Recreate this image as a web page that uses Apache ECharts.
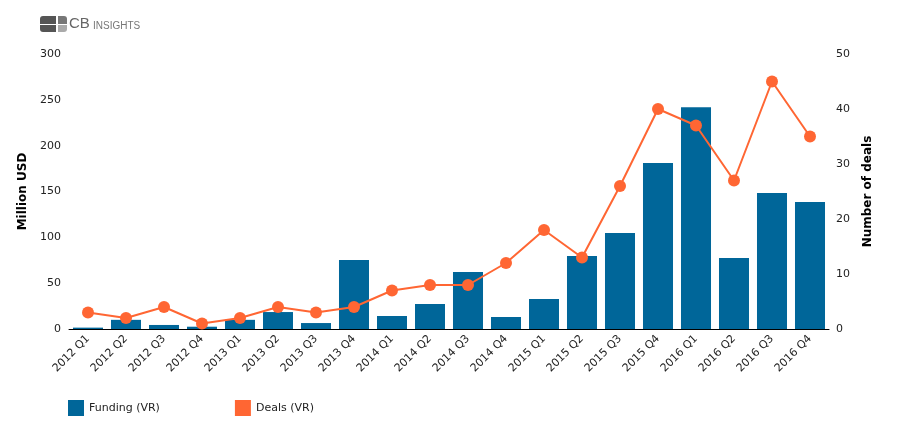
<!DOCTYPE html>
<html><head><meta charset="utf-8">
<script src="https://cdn.jsdelivr.net/npm/echarts@6/dist/echarts.min.js"></script>
<style>html,body{margin:0;padding:0;background:#fff}#c{width:899px;height:436px}</style>
</head><body><div id="c"></div>
<script>
const categories = ['2012 Q1','2012 Q2','2012 Q3','2012 Q4','2013 Q1','2013 Q2','2013 Q3','2013 Q4','2014 Q1','2014 Q2','2014 Q3','2014 Q4','2015 Q1','2015 Q2','2015 Q3','2015 Q4','2016 Q1','2016 Q2','2016 Q3','2016 Q4'];
const funding = [1.5,10,4.4,2.5,10,18.5,6.5,75.3,14.2,27.3,62.2,13.1,32.7,79.6,104.7,181,242,77.5,148.4,138.5];
const deals = [3,2,4,1,2,4,3,4,7,8,8,12,18,13,26,40,37,27,45,35];

const FONT = 'DejaVu Sans';
const chart = echarts.init(document.getElementById('c'));
chart.setOption({
  animation:false,
  textStyle:{fontFamily:FONT},
  graphic:[
    {type:'rect',shape:{x:40,y:16,width:16,height:8,r:[3,0,0,0]},style:{fill:'#555'}},
    {type:'rect',shape:{x:40,y:25,width:16,height:7,r:[0,0,0,3]},style:{fill:'#555'}},
    {type:'rect',shape:{x:58,y:16,width:9,height:8,r:[0,3,0,0]},style:{fill:'#777'}},
    {type:'rect',shape:{x:58,y:25,width:9,height:7,r:[0,0,3,0]},style:{fill:'#aaa'}},
    {type:'text',left:69,top:16,style:{text:'CB',fontSize:15,fill:'#666',fontFamily:'Liberation Sans'}},
    {type:'text',left:93,top:21,style:{text:'INSIGHTS',fontSize:10,fill:'#777',fontFamily:'Liberation Sans'}}
  ],
  grid:{left:69,right:70,top:54,bottom:107},
  legend:{left:63,top:395,itemWidth:16,itemHeight:16,itemGap:75,icon:'rect',
    textStyle:{fontSize:11,color:'#222',fontFamily:FONT},
    data:['Funding (VR)','Deals (VR)']},
  xAxis:{type:'category',data:categories,
    axisLine:{lineStyle:{color:'#000',width:1}},
    axisTick:{alignWithLabel:true,length:4,lineStyle:{color:'#888',width:2}},
    axisLabel:{rotate:45,fontSize:11,color:'#222',margin:8,interval:0}},
  yAxis:[
    {type:'value',min:0,max:300,interval:50,splitLine:{show:false},
     axisLine:{show:false},axisTick:{show:false},
     axisLabel:{fontSize:11,color:'#222',margin:8},
     name:'Million USD',nameLocation:'middle',nameGap:35,nameRotate:90,
     nameTextStyle:{fontWeight:'bold',fontSize:12,color:'#000'}},
    {type:'value',min:0,max:50,interval:10,splitLine:{show:false},
     axisLine:{show:false},axisTick:{show:false},
     axisLabel:{fontSize:11,color:'#222',margin:7},
     name:'Number of deals',nameLocation:'middle',nameGap:33,nameRotate:90,
     nameTextStyle:{fontWeight:'bold',fontSize:12,color:'#000'}}
  ],
  series:[
    {name:'Funding (VR)',type:'bar',data:funding,barCategoryGap:'21%',itemStyle:{color:'#006699'}},
    {name:'Deals (VR)',type:'line',yAxisIndex:1,data:deals,symbol:'circle',symbolSize:12,
     lineStyle:{color:'#ff6633',width:2},itemStyle:{color:'#ff6633'}}
  ]
});
</script></body></html>
